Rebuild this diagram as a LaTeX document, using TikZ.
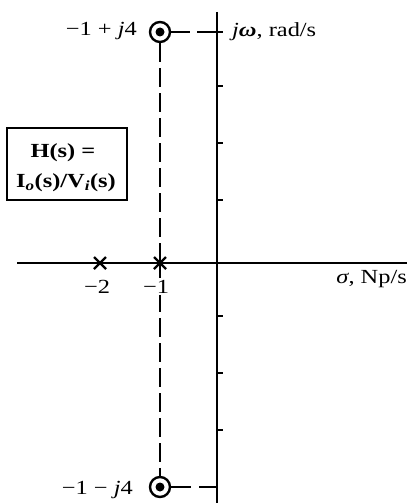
\documentclass[tikz,border=0pt]{standalone}
\usepackage{fontspec}
\setmainfont{Liberation Serif}[FakeStretch=1.22]
\usetikzlibrary{calc}
\begin{document}
\begin{tikzpicture}[x=1pt,y=-1pt,
  axisline/.style={line width=1.6pt},
  tickline/.style={line width=1.4pt},
  dashline/.style={line width=1.6pt, dash pattern=on 19pt off 6pt},
  lbl/.style={font=\fontsize{20}{24}\selectfont, inner sep=0pt},
  zeroring/.style={circle, draw, line width=2.4pt, minimum size=20pt, inner sep=0pt},
  polemark/.style={line width=2.2pt},
  tfbox/.style={draw, line width=2pt, minimum width=120pt, minimum height=72pt},
  tftext/.style={lbl, anchor=base, font=\fontsize{20}{24}\selectfont\bfseries}
]
\useasboundingbox (0,0) rectangle (407,503);
% axes
\coordinate (ytop) at (217,12);
\coordinate (ybot) at (217,503);
\coordinate (xl) at (17,263);
\coordinate (xr) at (407,263);
\draw[axisline] (ytop) -- (ybot);
\draw[axisline] (xl) -- (xr);
% ticks
\foreach \y in {86,143,200,316,373,430} \draw[tickline] (216,\y) -- (223,\y);
% zeros
\node[zeroring] (z1) at (160,32) {};
\fill (z1.center) circle (4.5pt);
\node[zeroring] (z2) at (160,487) {};
\fill (z2.center) circle (4.5pt);
% poles
\coordinate (p1) at (100,263);
\coordinate (p2) at (160,263);
% dashed guide lines
\draw[dashline] (z1.south) -- (z2.north);
\coordinate (t1) at (223,32);
\coordinate (t2) at (217,487);
\draw[line width=1.6pt, dash pattern=on 19pt off 7pt on 40pt] (z1.east) -- (t1);
\draw[line width=1.6pt, dash pattern=on 20pt off 8pt on 40pt] (z2.east) -- (t2);
% pole marks
\draw[polemark] ($(p1)+(-6,-6)$) -- ($(p1)+(6,6)$) ($(p1)+(-6,6)$) -- ($(p1)+(6,-6)$);
\draw[polemark] ($(p2)+(-6,-6)$) -- ($(p2)+(6,6)$) ($(p2)+(-6,6)$) -- ($(p2)+(6,-6)$);
\draw[polemark] ($(p2)+(0,-9)$) -- ($(p2)+(0,9)$);
% labels
\node[lbl, anchor=base east] (lz1) at (137,36) {−1 + \textit{j}4};
\node[lbl, anchor=base east] (lz2) at (133,494) {−1 − \textit{j}4};
\node[lbl, anchor=base west] (ly) at (232,37) {\textit{j\textbf{ω}}, rad/s};
\node[lbl, anchor=base east] (lx) at (407,283) {\textit{σ}, Np/s};
\node[lbl, anchor=base] (lm2) at (97,293) {−2};
\node[lbl, anchor=base, fill=white, inner sep=2pt] (lm1) at (156,293) {−1};
% transfer function box
\node[tfbox] (tf) at (67,164) {};
\node[tftext] (tf1) at (63,157) {H(s) =};
\node[tftext] (tf2) at (66,187) {I\textsubscript{\textit{o}}(s)/V\textsubscript{\textit{i}}(s)};
\end{tikzpicture}
\end{document}
